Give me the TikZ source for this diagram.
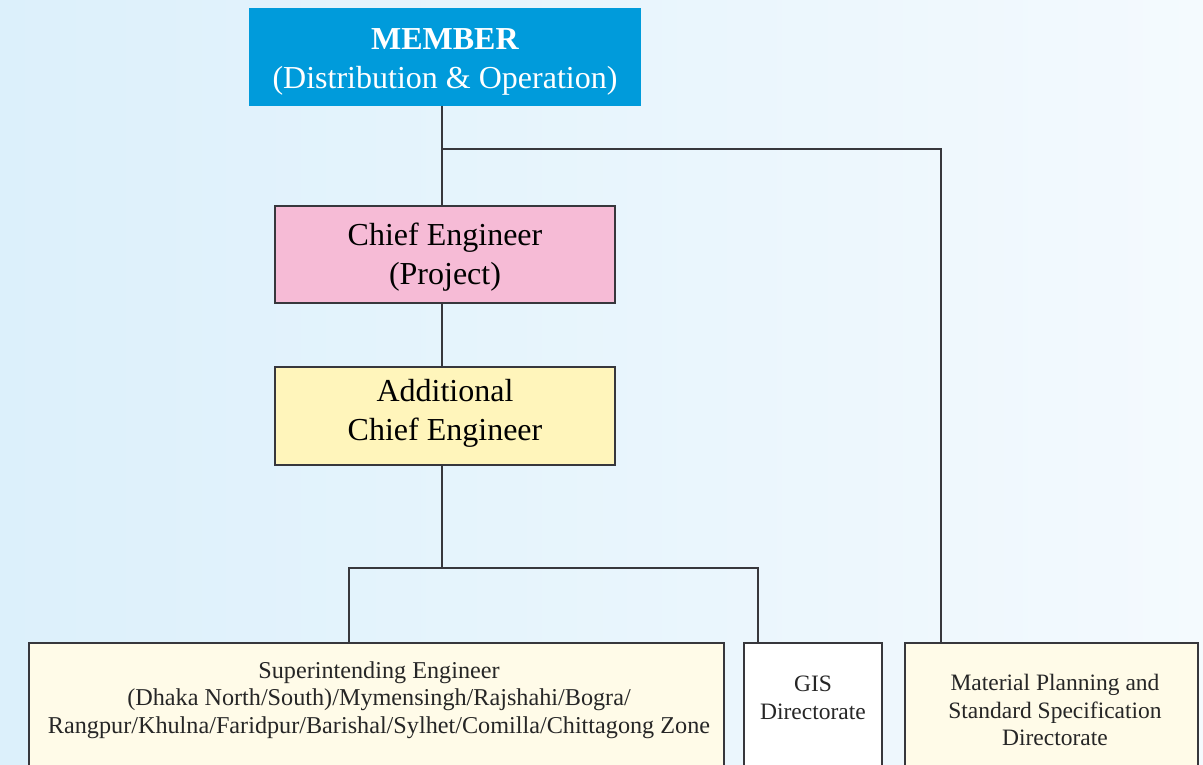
\documentclass[tikz,border=0pt]{standalone}
\usepackage{fontspec}
\setmainfont{Liberation Serif}
\usetikzlibrary{calc}
\definecolor{bgl}{RGB}{220,240,251}
\definecolor{bgr}{RGB}{244,250,254}
\definecolor{memblue}{RGB}{0,155,219}
\definecolor{cepink}{RGB}{246,187,214}
\definecolor{aceyellow}{RGB}{255,245,187}
\definecolor{cream}{RGB}{255,251,232}
\definecolor{linec}{RGB}{55,55,60}
\begin{document}
\begin{tikzpicture}[x=1pt,y=-1pt,
  box/.style={draw=linec, line width=1.8pt, inner sep=0pt, outer sep=0pt, anchor=north west},
  conn/.style={draw=linec, line width=1.8pt},
  bigtxt/.style={font=\fontsize{32}{39}\selectfont, align=center},
  smalltxt/.style={font=\fontsize{23.5}{27.5}\selectfont, align=center, text=black!85}]
\useasboundingbox (0,0) rectangle (1203,765);
\shade[left color=bgl, right color=bgr] (0,0) rectangle (1203,765);

% boxes
\node[fill=memblue, inner sep=0pt, outer sep=0pt, anchor=north west, minimum width=392pt, minimum height=98pt] (mem) at (249,8) {};
\node[bigtxt, text=white] (memtxt) at (445,62) {\textbf{MEMBER}\\(Distribution \& Operation)};
\node[box, fill=cepink, minimum width=340pt, minimum height=97pt] (ce) at (275,206) {};
\node[bigtxt] (cetxt) at (445,257) {Chief Engineer\\(Project)};
\node[box, fill=aceyellow, minimum width=340pt, minimum height=98pt] (ace) at (275,367) {};
\node[bigtxt] (acetxt) at (445,413) {Additional\\Chief Engineer};

\node[box, fill=cream, minimum width=695pt, minimum height=160pt] (se) at (29,643) {};
\node[box, fill=white, minimum width=138pt, minimum height=160pt] (gis) at (744,643) {};
\node[box, fill=cream, minimum width=293pt, minimum height=160pt] (mat) at (905,643) {};

\node[smalltxt, font=\fontsize{24.2}{27.5}\selectfont] (setxt) at (379,700)
  {Superintending Engineer\\(Dhaka North/South)/Mymensingh/Rajshahi/Bogra/\\Rangpur/Khulna/Faridpur/Barishal/Sylhet/Comilla/Chittagong Zone};
\node[smalltxt] (gistxt) at (813,698) {GIS\\Directorate};
\node[smalltxt] (mattxt) at (1055,710) {Material Planning and\\Standard Specification\\Directorate};

% connectors
\coordinate (axis) at (442,0);
\coordinate (b1) at (442,149);
\coordinate (mata) at ($(mat.north west)+(36,0)$);
\draw[conn] (mem.south -| axis) -- (ce.north -| axis);
\draw[conn] (b1) -| (mata);
\draw[conn] (ce.south -| axis) -- (ace.north -| axis);

\coordinate (b2) at (442,568);
\coordinate (sea) at ($(se.north west)+(320,0)$);
\coordinate (gisa) at ($(gis.north west)+(14,0)$);
\draw[conn] (ace.south -| axis) -- (b2);
\draw[conn] (sea) -- (sea |- b2) -- (gisa |- b2) -- (gisa);
\end{tikzpicture}
\end{document}
